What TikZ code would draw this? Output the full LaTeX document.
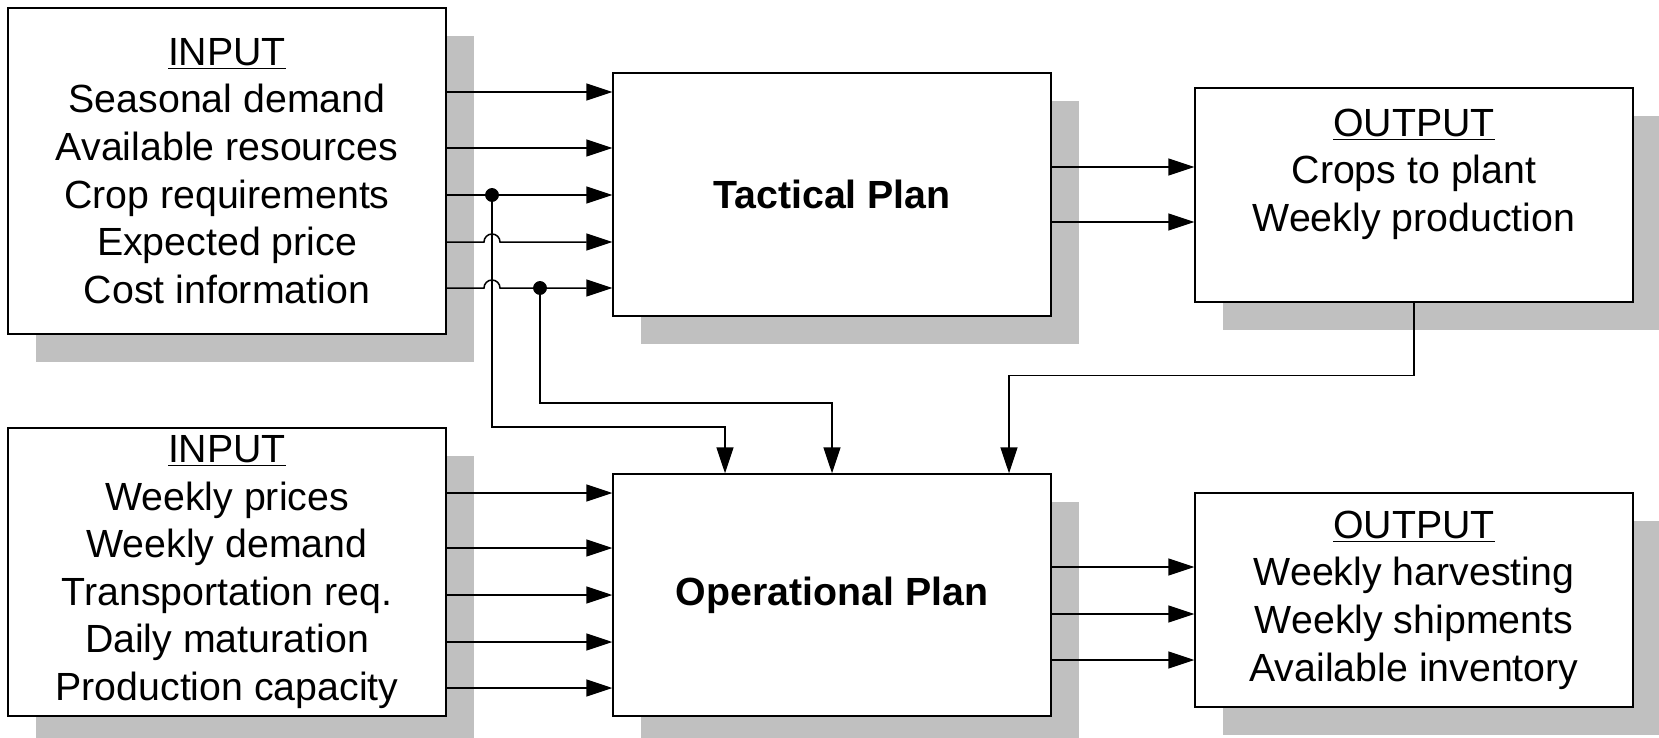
\documentclass[tikz,border=0pt]{standalone}
\usepackage{fontspec}
\setmainfont{Liberation Sans}
\usepackage{tikz}
\usetikzlibrary{arrows.meta, shadows}
\definecolor{shade}{HTML}{C0C0C0}

\begin{document}
\begin{tikzpicture}[x=0.5pt, y=-0.5pt, >={Triangle[length=13pt, width=8.5pt]},
  box/.style={draw, line width=0.7pt, fill=white, align=center, minimum width=219pt,
    font=\fontsize{19.65pt}{23.8pt}\selectfont,
    drop shadow={shadow xshift=14pt, shadow yshift=-14pt, fill=shade, opacity=1}},
  link/.style={line width=0.75pt}]
  \useasboundingbox (0,0) rectangle (1659,738);
  \node (in1) at (227,171) [box, minimum height=163pt]
    {\underline{INPUT}\\Seasonal demand\\Available resources\\Crop requirements\\Expected price\\Cost information};
  \node (tac) at (832,194.5) [box, minimum height=121.5pt] {\textbf{Tactical Plan}};
  \node (out1) at (1414,195) [box, minimum height=107pt]
    {\underline{OUTPUT}\\Crops to plant\\Weekly production\\[-6pt]\strut};
  \node (in2) at (227,572) [box, minimum height=144pt]
    {\underline{INPUT}\\Weekly prices\\Weekly demand\\Transportation req.\\Daily maturation\\Production capacity};
  \node (op) at (832,595) [box, minimum height=121pt] {\textbf{Operational Plan}};
  \node (out2) at (1414,600) [box, minimum height=107pt]
    {\underline{OUTPUT}\\Weekly harvesting\\Weekly shipments\\Available inventory};
  \coordinate (j1) at (492,195);
  \coordinate (j2) at (540,288);
  \foreach \y in {92,148,195}
    \draw [link, ->] (in1.east |- 0,\y) -- (tac.west |- 0,\y);
  \foreach \y in {242,288}
    \draw [link, ->] (in1.east |- 0,\y) -- (484,\y) arc [start angle=180, end angle=0, radius=4pt]
      -- (tac.west |- 0,\y);
  \foreach \y in {167,222}
    \draw [link, ->] (tac.east |- 0,\y) -- (out1.west |- 0,\y);
  \foreach \y in {493,548,595,642,688}
    \draw [link, ->] (in2.east |- 0,\y) -- (op.west |- 0,\y);
  \foreach \y in {567,614,660}
    \draw [link, ->] (op.east |- 0,\y) -- (out2.west |- 0,\y);
  \draw [link, ->] (j1) -- ++(0,232) -| ([xshift=-53.5pt]op.north);
  \draw [link, ->] (j2) -- ++(0,115) -| (op.north);
  \draw [link, ->] (out1.south) -- ++(0,73) -| ([xshift=88.5pt]op.north);
  \draw [fill] (j1) circle [radius=3.25pt];
  \draw [fill] (j2) circle [radius=3.25pt];
\end{tikzpicture}
\end{document}
